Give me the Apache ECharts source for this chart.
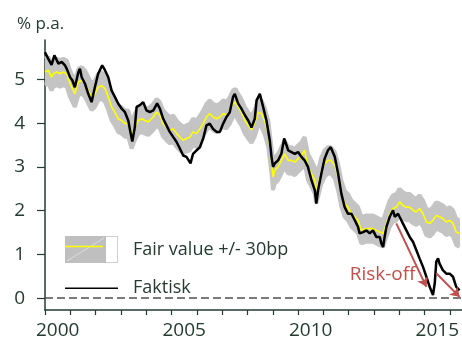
<!DOCTYPE html>
<html>
<head>
<meta charset="utf-8">
<script src="https://cdn.jsdelivr.net/npm/echarts@6/dist/echarts.min.js"></script>
<style>html,body{margin:0;padding:0;background:#fff}#c{width:462px;height:340px}</style>
</head>
<body>
<div id="c"></div>
<script>
// ---- data ----
var fairDates = [2000.00,2000.13,2000.26,2000.33,2000.46,2000.59,2000.72,2000.86,2000.99,2001.18,2001.32,2001.45,2001.58,2001.71,2001.84,2001.97,2002.10,2002.24,2002.37,2002.50,2002.63,2002.76,2002.89,2003.03,2003.16,2003.29,2003.42,2003.55,2003.68,2003.82,2003.95,2004.08,2004.15,2004.28,2004.41,2004.54,2004.67,2004.80,2004.93,2005.07,2005.20,2005.33,2005.46,2005.59,2005.72,2005.85,2005.99,2006.12,2006.25,2006.38,2006.51,2006.64,2006.78,2006.91,2007.04,2007.17,2007.30,2007.43,2007.53,2007.63,2007.76,2007.90,2008.03,2008.16,2008.29,2008.42,2008.55,2008.68,2008.82,2008.95,2009.01,2009.08,2009.21,2009.34,2009.47,2009.61,2009.74,2009.87,2010.00,2010.13,2010.26,2010.39,2010.53,2010.66,2010.72,2010.79,2010.92,2011.05,2011.18,2011.29,2011.45,2011.58,2011.71,2011.84,2011.97,2012.11,2012.24,2012.37,2012.50,2012.70,2012.96,2013.23,2013.36,2013.49,2013.62,2013.75,2013.88,2014.01,2014.14,2014.28,2014.41,2014.54,2014.67,2014.80,2014.94,2015.07,2015.20,2015.33,2015.46,2015.59,2015.72,2015.86,2015.99,2016.12,2016.25,2016.38];
var fairValues = [5.17,5.21,5.05,5.13,5.17,5.13,5.17,5.13,4.90,4.67,4.94,4.98,4.90,4.75,4.60,4.67,4.82,4.86,4.79,4.60,4.37,4.25,4.10,4.06,3.99,3.99,3.72,3.91,4.06,4.10,4.06,4.03,4.06,4.14,4.25,4.18,3.99,3.91,3.84,3.87,3.76,3.68,3.61,3.65,3.68,3.80,3.76,3.87,3.99,4.14,4.22,4.14,4.10,4.14,4.22,4.18,4.29,4.45,4.48,4.37,4.25,4.06,3.95,3.85,4.00,4.25,4.22,4.05,3.76,3.15,2.77,2.92,3.00,3.15,3.30,3.15,3.15,3.11,3.19,3.26,3.38,3.00,2.85,2.69,2.47,2.62,2.92,3.08,3.15,3.15,3.04,2.77,2.39,2.16,2.08,1.93,1.86,1.78,1.55,1.59,1.59,1.51,1.48,1.71,1.93,2.05,2.08,2.20,2.12,2.08,2.08,2.01,1.97,2.05,1.93,1.74,1.71,1.78,1.89,1.86,1.82,1.74,1.78,1.71,1.51,1.48];
var bandHalfWidth = 0.30; // fair value +/- 30bp

var actualDates = [2000.00,2000.13,2000.26,2000.37,2000.53,2000.66,2000.79,2000.86,2000.99,2001.08,2001.18,2001.32,2001.38,2001.45,2001.58,2001.71,2001.84,2001.97,2002.10,2002.26,2002.37,2002.50,2002.63,2002.76,2002.89,2003.03,2003.16,2003.29,2003.36,2003.45,2003.55,2003.62,2003.75,2003.88,2004.01,2004.14,2004.28,2004.43,2004.54,2004.67,2004.80,2004.93,2005.07,2005.20,2005.33,2005.46,2005.59,2005.75,2005.85,2005.99,2006.12,2006.25,2006.38,2006.51,2006.64,2006.78,2006.91,2007.04,2007.17,2007.30,2007.43,2007.50,2007.63,2007.76,2007.90,2008.03,2008.16,2008.29,2008.36,2008.49,2008.62,2008.75,2008.88,2008.95,2009.01,2009.08,2009.21,2009.34,2009.45,2009.61,2009.74,2009.87,2010.00,2010.13,2010.26,2010.39,2010.53,2010.66,2010.72,2010.79,2010.92,2011.05,2011.18,2011.29,2011.45,2011.58,2011.71,2011.84,2011.97,2012.11,2012.24,2012.37,2012.43,2012.57,2012.70,2012.83,2012.96,2013.09,2013.23,2013.29,2013.36,2013.42,2013.49,2013.62,2013.75,2013.82,2013.95,2014.01,2014.14,2014.28,2014.41,2014.54,2014.67,2014.80,2014.94,2015.07,2015.20,2015.33,2015.40,2015.46,2015.53,2015.59,2015.72,2015.86,2015.99,2016.12,2016.25,2016.38];
var actualValues = [5.62,5.47,5.33,5.55,5.36,5.40,5.32,5.24,5.05,4.98,4.82,5.17,5.24,5.05,4.90,4.67,4.48,4.82,5.13,5.32,5.21,5.05,4.75,4.60,4.45,4.33,4.25,4.06,3.84,3.58,3.91,4.37,4.41,4.48,4.29,4.25,4.29,4.45,4.33,4.10,3.95,3.80,3.68,3.57,3.42,3.26,3.23,3.08,3.30,3.38,3.45,3.65,3.95,3.99,3.87,3.80,3.80,3.99,4.14,4.25,4.60,4.67,4.45,4.33,4.18,4.06,3.90,4.10,4.52,4.67,4.37,4.06,3.61,3.23,3.00,3.08,3.15,3.30,3.65,3.38,3.34,3.30,3.34,3.23,3.15,3.00,2.69,2.47,2.16,2.47,2.85,3.19,3.38,3.45,3.23,2.85,2.39,2.08,1.93,1.93,1.78,1.63,1.48,1.51,1.55,1.48,1.55,1.40,1.40,1.25,1.17,1.40,1.63,1.86,2.01,1.86,1.93,1.86,1.71,1.55,1.40,1.29,1.10,0.91,0.71,0.49,0.26,0.07,0.34,0.83,0.91,0.79,0.64,0.56,0.56,0.49,0.26,0.18];

var yTicks = [0, 1, 2, 3, 4, 5];
var xTicks = [2000,2001,2002,2003,2004,2005,2006,2007,2008,2009,2010,2011,2012,2013,2014,2015,2016];
var xLabelYears = [2000, 2005, 2010, 2015];
var riskOffArrows = [[[2013.88, 1.71], [2015.07, 0.26]], [[2015.46, 0.57], [2016.38, 0.03]]];
var riskOffLabel = {text: 'Risk-off', at: [2013.34, 0.55]};
var legendNames = ['Fair value +/- 30bp', 'Faktisk'];

// ---- build ----
var FONT = '"Open Sans", "Noto Sans", sans-serif';
var TXT = '#243b30';
var BAND = '#c4c4c4';
function zip(xs, ys) { return xs.map(function (x, i) { return [x, ys[i]]; }); }
var bandData = fairDates.map(function (x, i) {
  return [x, +(fairValues[i] - bandHalfWidth).toFixed(3), +(fairValues[i] + bandHalfWidth).toFixed(3)];
});

function svgIcon(s) { return 'image://data:image/svg+xml;charset=utf-8,' + encodeURIComponent(s); }
var bandIcon = svgIcon('<svg xmlns="http://www.w3.org/2000/svg" width="53" height="27" viewBox="0 0 53 27">' +
  '<rect x="0.5" y="0.5" width="52" height="26" fill="#ffffff" stroke="#d0d0d0" stroke-width="1"/>' +
  '<rect x="0" y="0" width="41" height="27" fill="#bfbfbf"/>' +
  '<line x1="2" y1="25" x2="39" y2="2" stroke="#e4e4e4" stroke-width="0.8"/>' +
  '<line x1="0" y1="10.5" x2="38" y2="10.5" stroke="#ffff00" stroke-width="1.3"/></svg>');
var lineIcon = svgIcon('<svg xmlns="http://www.w3.org/2000/svg" width="53" height="27" viewBox="0 0 53 27">' +
  '<line x1="0" y1="13.5" x2="53" y2="13.5" stroke="#000000" stroke-width="1.6"/></svg>');

function renderBand(params, api) {
  var i = params.dataIndex;
  if (i >= bandData.length - 1) return null;
  var a = bandData[i], b = bandData[i + 1];
  var pts = [api.coord([a[0], a[2]]), api.coord([b[0], b[2]]), api.coord([b[0], b[1]]), api.coord([a[0], a[1]])];
  return {
    type: 'polygon',
    shape: {points: pts},
    style: {fill: BAND, stroke: BAND, lineWidth: 1}
  };
}

var chart = echarts.init(document.getElementById('c'), null, {renderer: 'canvas'});
chart.setOption({
  animation: false,
  backgroundColor: '#ffffff',
  title: {
    text: '% p.a.', left: 12, top: 11,
    textStyle: {fontFamily: FONT, fontSize: 17, fontWeight: 'normal', color: TXT}
  },
  grid: {left: 45, right: 0, top: 40, bottom: 30},
  legend: {
    orient: 'vertical', left: 65, top: 236, padding: 0,
    itemWidth: 53, itemHeight: 27, itemGap: 11.7,
    textStyle: {fontFamily: FONT, fontSize: 18, color: TXT, padding: [0, 0, 0, 10]},
    selectedMode: false,
    data: [{name: legendNames[0], icon: bandIcon}, {name: legendNames[1], icon: lineIcon}]
  },
  xAxis: {
    type: 'value', min: 2000, max: 2016.46,
    axisLine: {show: true, onZero: false, lineStyle: {color: TXT, width: 1.5}},
    axisTick: {show: true, customValues: xTicks, length: 5, lineStyle: {color: TXT, width: 1.2}},
    axisLabel: {
      customValues: xLabelYears.map(function (y) { return y + 0.5; }),
      formatter: function (v) { return String(Math.floor(v)); },
      fontFamily: FONT, fontSize: 19, color: TXT, margin: 11
    },
    splitLine: {show: false}
  },
  yAxis: {
    type: 'value', min: -0.27, max: 5.9,
    axisLine: {show: true, onZero: false, lineStyle: {color: TXT, width: 1.5}},
    axisTick: {show: true, customValues: yTicks, length: 8, lineStyle: {color: TXT, width: 1.2}},
    axisLabel: {customValues: yTicks, fontFamily: FONT, fontSize: 19, color: TXT, margin: 20},
    splitLine: {show: false}
  },
  series: [
    {
      name: legendNames[0], type: 'custom', data: bandData, renderItem: renderBand, silent: true,
      itemStyle: {color: BAND}, encode: {x: 0, y: [1, 2]}, clip: true, z: 1
    },
    {
      name: 'bandLow', type: 'line', data: bandData.map(function (d) { return [d[0], d[1]]; }),
      symbol: 'none', silent: true, lineStyle: {color: BAND, width: 4}, z: 1
    },
    {
      name: 'bandHigh', type: 'line', data: bandData.map(function (d) { return [d[0], d[2]]; }),
      symbol: 'none', silent: true, lineStyle: {color: BAND, width: 4}, z: 1
    },
    {
      name: 'Fair value', type: 'line', data: zip(fairDates, fairValues), symbol: 'none', silent: true,
      lineStyle: {color: '#ffff00', width: 1.6}, z: 3,
      markLine: {
        silent: true, symbol: ['none', 'none'], label: {show: false},
        lineStyle: {color: '#505050', width: 1.5, type: [8, 4]},
        data: [{yAxis: 0}]
      }
    },
    {
      name: legendNames[1], type: 'line', data: zip(actualDates, actualValues), symbol: 'none', silent: true,
      lineStyle: {color: '#000000', width: 2.5}, itemStyle: {color: '#000000'}, z: 4,
      markLine: {
        silent: true, symbol: ['none', 'arrow'], symbolSize: 9, label: {show: false},
        lineStyle: {color: '#c0504d', width: 2, type: 'solid'},
        data: riskOffArrows.map(function (a) { return [{coord: a[0]}, {coord: a[1]}]; })
      },
      markPoint: {
        silent: true, symbol: 'circle', symbolSize: 1, itemStyle: {color: 'rgba(0,0,0,0)'},
        label: {show: true, position: 'inside', formatter: riskOffLabel.text,
          fontFamily: FONT, fontSize: 19, color: '#c0504d'},
        data: [{coord: riskOffLabel.at}]
      }
    }
  ]
});
</script>
</body>
</html>
